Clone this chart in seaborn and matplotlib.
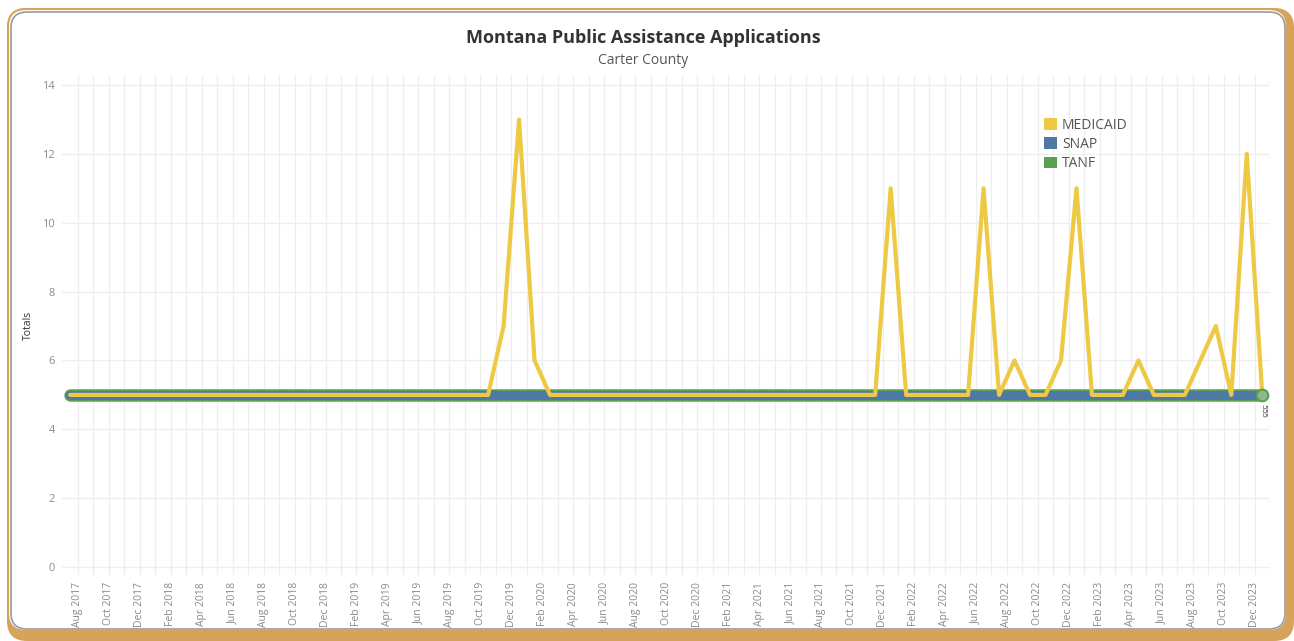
import matplotlib
matplotlib.use("Agg")
import matplotlib.pyplot as plt
from matplotlib.patches import FancyBboxPatch, Patch
import pandas as pd
import seaborn as sns

# ---- data -----------------------------------------------------------------
months = pd.date_range("2017-08-01", "2024-01-01", freq="MS")

medicaid = [
    5, 5, 5, 5, 5, 5, 5, 5, 5, 5, 5, 5,
    5, 5, 5, 5, 5, 5, 5, 5, 5, 5, 5, 5,
    5, 5, 5, 5, 7, 13, 6, 5, 5, 5, 5, 5,
    5, 5, 5, 5, 5, 5, 5, 5, 5, 5, 5, 5,
    5, 5, 5, 5, 5, 11, 5, 5, 5, 5, 5, 11,
    5, 6, 5, 5, 6, 11, 5, 5, 5, 6, 5, 5,
    5, 6, 7, 5, 12, 5,
]
snap = [
    5, 5, 5, 5, 5, 5, 5, 5, 5, 5, 5, 5,
    5, 5, 5, 5, 5, 5, 5, 5, 5, 5, 5, 5,
    5, 5, 5, 5, 5, 5, 5, 5, 5, 5, 5, 5,
    5, 5, 5, 5, 5, 5, 5, 5, 5, 5, 5, 5,
    5, 5, 5, 5, 5, 5, 5, 5, 5, 5, 5, 5,
    5, 5, 5, 5, 5, 5, 5, 5, 5, 5, 5, 5,
    5, 5, 5, 5, 5, 5,
]
tanf = [
    5, 5, 5, 5, 5, 5, 5, 5, 5, 5, 5, 5,
    5, 5, 5, 5, 5, 5, 5, 5, 5, 5, 5, 5,
    5, 5, 5, 5, 5, 5, 5, 5, 5, 5, 5, 5,
    5, 5, 5, 5, 5, 5, 5, 5, 5, 5, 5, 5,
    5, 5, 5, 5, 5, 5, 5, 5, 5, 5, 5, 5,
    5, 5, 5, 5, 5, 5, 5, 5, 5, 5, 5, 5,
    5, 5, 5, 5, 5, 5,
]
y_ticks = [0, 2, 4, 6, 8, 10, 12, 14]

colors = {"MEDICAID": "#EEC943", "SNAP": "#4E79A7", "TANF": "#59A14F"}

df = pd.DataFrame({
    "idx": list(range(len(months))) * 3,
    "Totals": medicaid + snap + tanf,
    "Program": ["MEDICAID"] * len(months) + ["SNAP"] * len(months) + ["TANF"] * len(months),
})

# ---- figure ---------------------------------------------------------------
sns.set_theme(style="white")
plt.rcParams["font.family"] = ["Open Sans", "DejaVu Sans"]

W, H = 1294, 641
fig = plt.figure(figsize=(W / 100, H / 100), dpi=100)
fig.patch.set_facecolor("white")

# background card in pixel coordinates: orange frame with offset shadow
bg = fig.add_axes([0, 0, 1, 1])
bg.set_xlim(0, W)
bg.set_ylim(H, 0)
bg.axis("off")

def card(x0, y0, x1, y1, r, **kw):
    bg.add_patch(FancyBboxPatch((x0, y0), x1 - x0, y1 - y0,
                                boxstyle=f"round,pad=0,rounding_size={r}", **kw))

card(7, 8, 1294, 641, 20, facecolor="#D6A35A", edgecolor="none")
card(8, 9, 1287, 631, 18, facecolor="white", edgecolor="#D6A35A", linewidth=1.5)
card(11, 12, 1285, 629, 16, facecolor="white", edgecolor="#9a9a9a", linewidth=1.2)

ax = fig.add_axes([62 / W, 1 - 575 / H, (1270 - 62) / W, (575 - 75) / H])
ax.set_facecolor("white")

# draw order: TANF underneath, SNAP band, MEDICAID on top
sns.lineplot(data=df[df.Program == "TANF"], x="idx", y="Totals", color=colors["TANF"],
             linewidth=9, ax=ax, legend=False, solid_capstyle="round", zorder=3)
sns.lineplot(data=df[df.Program == "SNAP"], x="idx", y="Totals", color=colors["SNAP"],
             linewidth=6.5, ax=ax, legend=False, solid_capstyle="round", zorder=4)
sns.lineplot(data=df[df.Program == "MEDICAID"], x="idx", y="Totals", color=colors["MEDICAID"],
             linewidth=3, ax=ax, legend=False, solid_capstyle="round", zorder=5)

# end-of-line marker and value labels
last = len(months) - 1
ax.scatter([last], [tanf[last]], s=70, facecolor="#8FB98A", edgecolor=colors["TANF"],
           linewidth=1.5, zorder=6)
for k, v in enumerate([medicaid[last], snap[last], tanf[last]]):
    ax.text(last + 0.05, v - 0.25 - k * 0.12, str(v), rotation=-90, fontsize=6,
            color="#333333", ha="center", va="top", zorder=7)

# axes styling
ax.set_xlim(-0.52, len(months) - 0.5)
ax.set_ylim(-0.23, 14.29)
ax.set_yticks(y_ticks)
ax.set_yticklabels([str(t) for t in y_ticks], fontsize=8, color="#8a8a8a")
tick_pos = [i + 0.5 for i in range(0, len(months), 2)]
tick_lab = [months[i].strftime("%b %Y") for i in range(0, len(months), 2)]
ax.set_xticks(tick_pos)
ax.set_xticklabels(tick_lab, rotation=90, fontsize=7.5, color="#8a8a8a")
ax.tick_params(axis="both", length=0, pad=5)
ax.set_xlabel("")
ax.set_ylabel("Totals", fontsize=7.5, color="#333333", labelpad=6)
for s in ax.spines.values():
    s.set_visible(False)

# gridlines
for i in range(len(months)):
    ax.axvline(i + 0.5, color="#eeeeee", linewidth=0.9, zorder=0)
for t in y_ticks:
    ax.axhline(t, color="#eeeeee", linewidth=0.9, zorder=0)

# legend
handles = [Patch(facecolor=colors[k], edgecolor="none", label=k) for k in ["MEDICAID", "SNAP", "TANF"]]
leg = ax.legend(handles=handles, loc="upper left", bbox_to_anchor=(0.807, 0.928), frameon=False,
                fontsize=10, handlelength=0.95, handleheight=0.95, handletextpad=0.35,
                labelspacing=0.3, borderpad=0)
for t in leg.get_texts():
    t.set_color("#555555")

# titles
fig.text(643 / W, 1 - 38 / H, "Montana Public Assistance Applications", ha="center", va="center",
         fontsize=13, fontweight="bold", color="#333333")
fig.text(643 / W, 1 - 60 / H, "Carter County", ha="center", va="center",
         fontsize=10, color="#555555")

fig.savefig("out.png", dpi=100, facecolor="white")
